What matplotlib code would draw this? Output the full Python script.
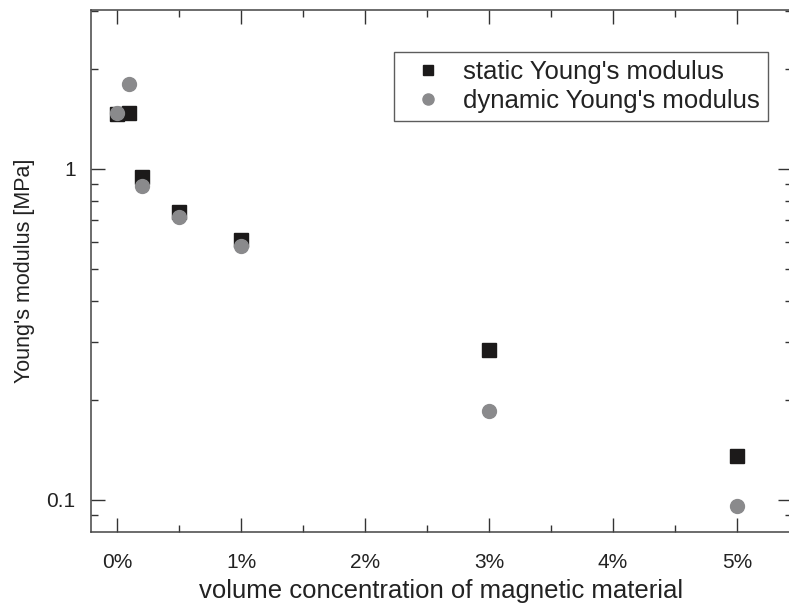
import matplotlib.pyplot as plt
from matplotlib.ticker import FixedLocator, NullFormatter, FuncFormatter

plt.rcParams['font.family'] = ['Liberation Sans', 'DejaVu Sans']

# concentration in %
conc = [0, 0.1, 0.2, 0.5, 1, 3, 5]
static_E = [1.46, 1.47, 0.945, 0.74, 0.61, 0.284, 0.136]
dynamic_E = [1.48, 1.81, 0.89, 0.716, 0.585, 0.185, 0.096]

fig = plt.figure(figsize=(7.89, 6.05), dpi=100)
ax = fig.add_axes([0.1153, 0.1207, 0.888, 0.8628])

ax.plot(conc, static_E, 's', color='#1c1a1a', ms=9.5, ls='none',
        label="static Young's modulus")
ax.plot(conc, dynamic_E, 'o', color='#8a8a8c', ms=10, ls='none',
        label="dynamic Young's modulus")

ax.set_yscale('log')
ax.set_ylim(0.08, 3.02)
ax.set_xlim(-0.21, 5.44)

ax.xaxis.set_major_locator(FixedLocator([0, 1, 2, 3, 4, 5]))
ax.xaxis.set_minor_locator(FixedLocator([0.5, 1.5, 2.5, 3.5, 4.5]))
ax.xaxis.set_major_formatter(FuncFormatter(lambda v, p: '%d%%' % round(v)))

ax.yaxis.set_major_locator(FixedLocator([0.1, 1]))
ax.yaxis.set_major_formatter(FuncFormatter(lambda v, p: '%g' % v))
ax.yaxis.set_minor_locator(FixedLocator([0.09, 0.2, 0.3, 0.4, 0.5, 0.6, 0.7, 0.8, 0.9, 2, 3]))
ax.yaxis.set_minor_formatter(NullFormatter())

ax.tick_params(which='both', direction='in', top=True, right=True,
               colors='#333333', labelcolor='#222222', labelsize=15)
ax.tick_params(which='major', length=10, width=1)
ax.tick_params(which='minor', length=5, width=1)
ax.tick_params(axis='x', pad=15)
ax.tick_params(axis='y', pad=11)

for s in ax.spines.values():
    s.set_color('#444444')
    s.set_linewidth(1.1)

ax.set_xlabel('volume concentration of magnetic material', fontsize=18.5,
              color='#222222', labelpad=5)
ax.set_ylabel("Young's modulus [MPa]", fontsize=15.5, color='#222222', labelpad=8)

leg = ax.legend(loc='upper right', bbox_to_anchor=(0.9657, 0.9195), borderaxespad=0,
                fontsize=18.5, frameon=True, fancybox=False, edgecolor='#333333',
                borderpad=0.3, handletextpad=0.3, labelspacing=0.2,
                handlelength=2.1, markerscale=0.8)
leg.get_frame().set_linewidth(1.0)
for t in leg.get_texts():
    t.set_color('#222222')

fig.savefig('out.png', dpi=100)
